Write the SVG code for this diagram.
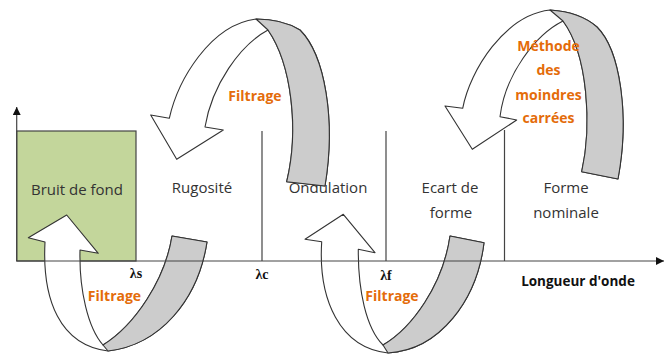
<svg xmlns="http://www.w3.org/2000/svg" width="665" height="356" viewBox="0 0 665 356">
<style>
.lbl{font-family:"Open Sans","Liberation Sans",sans-serif;font-size:15px;fill:#333;text-anchor:middle}
.org{font-family:"Open Sans","Liberation Sans",sans-serif;font-size:14px;font-weight:bold;fill:#E46C0A;text-anchor:middle}
.lam{font-family:"Liberation Serif","DejaVu Serif",serif;font-size:14px;font-weight:bold;fill:#111;text-anchor:middle}
.ax{font-family:"Open Sans","Liberation Sans",sans-serif;font-size:13.5px;font-weight:bold;fill:#111;text-anchor:middle}
.wh{fill:#fff;stroke:#333;stroke-width:1.1;stroke-linejoin:round}
.gr{fill:#CCCCCC;stroke:#333;stroke-width:1.1;stroke-linejoin:round}
.line{stroke:#444;stroke-width:1.2;fill:none}
</style>
<defs>
<marker id="ah" viewBox="0 0 10 10" refX="10" refY="5" markerWidth="8" markerHeight="8" markerUnits="userSpaceOnUse" orient="auto">
<path d="M0,0 L10,5 L0,10 Z" fill="#111"/>
</marker>
</defs>

<g id="bruit-de-fond">
<rect x="16.7" y="131" width="119.3" height="130" fill="#C3D69B" stroke="#444" stroke-width="1.2"/>
<text class="lbl" x="77" y="195">Bruit de fond</text>
</g>
<g id="rugosite"><text class="lbl" x="202" y="193">Rugosité</text></g>
<g id="ondulation"><text class="lbl" x="328" y="193">Ondulation</text></g>
<g id="ecart-de-forme"><text class="lbl" x="450" y="193">Ecart de</text><text class="lbl" x="451" y="218">forme</text></g>
<g id="forme-nominale"><text class="lbl" x="566" y="193">Forme</text><text class="lbl" x="566" y="218">nominale</text></g>

<g id="arrow-filtrage-1">
<path class="wh" d="M66.7,215 L98.3,253.3 L80,250 C79,290 88,328 103,345 C135,325 165,280 172,236 L207,242 C198,300 160,345 108,351 C60,345 42,300 45,242 L28.3,237.7 Z"/>
<path class="gr" d="M103,345 C135,325 165,280 172,236 L207,242 C198,300 160,345 108,351 Z"/>
</g>
<g id="arrow-filtrage-2">
<path class="wh" d="M176.7,159.3 L150.7,115 L169.3,118.3 C178,80 210,25 256,19 Q282,19 300,30 C325,55 336,120 325,186 L286.7,181.7 C299,130 292,65 268,30 C240,45 212,85 205,127 L223.3,130 Z"/>
<path class="gr" d="M256,19 Q282,19 300,30 C325,55 336,120 325,186 L286.7,181.7 C299,130 292,65 268,30 Z"/>
</g>
<g id="arrow-filtrage-3">
<path class="wh" d="M343.3,214.3 L375,252.7 L358.3,249.3 C358,290 366,328 383,345 C412,328 443,285 450,236 L484,242.7 C477,300 440,350 388,353 C340,348 318,300 321.7,241.7 L305,239.3 Z"/>
<path class="gr" d="M383,345 C412,328 443,285 450,236 L484,242.7 C477,300 440,350 388,353 Z"/>
</g>
<g id="arrow-moindres-carres">
<path class="wh" d="M472.3,149.3 L445,106 L462.7,108.3 C470,70 505,15 550,10 Q580,12 597,27 C620,50 630,115 618,179 L581.7,171.7 C592,125 588,55 563,21 C535,35 505,75 500,116.7 L516.7,120 Z"/>
<path class="gr" d="M550,10 Q580,12 597,27 C620,50 630,115 618,179 L581.7,171.7 C592,125 588,55 563,21 Z"/>
</g>

<g id="connectors">
<line class="line" x1="16.7" y1="261" x2="16.7" y2="107" marker-end="url(#ah)"/>
<line class="line" x1="16.7" y1="261" x2="664" y2="261" marker-end="url(#ah)"/>
<line class="line" x1="262" y1="131" x2="262" y2="261"/>
<line class="line" x1="386" y1="131" x2="386" y2="261"/>
<line class="line" x1="504.5" y1="130" x2="504.5" y2="261"/>
</g>

<g id="labels">
<text class="lam" x="136" y="278">λs</text>
<text class="lam" x="262" y="279">λc</text>
<text class="lam" x="386" y="280">λf</text>
<text class="ax" x="578" y="286">Longueur d'onde</text>
<text class="org" x="114.5" y="301">Filtrage</text>
<text class="org" x="255" y="101">Filtrage</text>
<text class="org" x="392" y="301">Filtrage</text>
<text class="org" x="548.5" y="51">Méthode</text>
<text class="org" x="548.5" y="75">des</text>
<text class="org" x="548.5" y="99.5">moindres</text>
<text class="org" x="548.5" y="123">carrées</text>
</g>
</svg>
